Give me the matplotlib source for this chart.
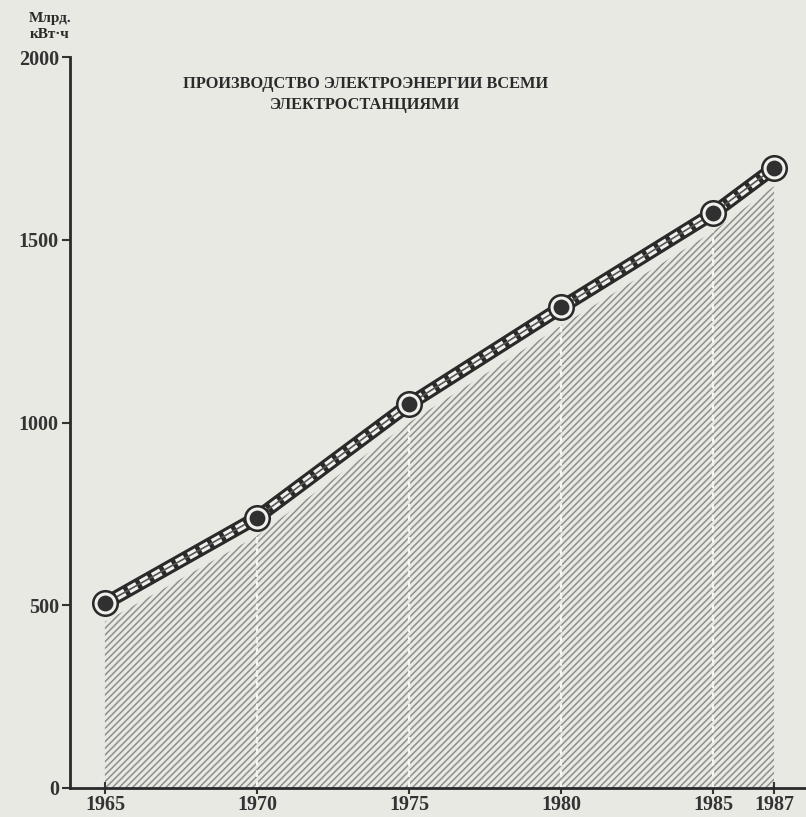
import matplotlib
matplotlib.use("Agg")
import matplotlib.pyplot as plt
import numpy as np

years = [1965, 1970, 1975, 1980, 1985, 1987]
production = [505, 740, 1050, 1315, 1573, 1697]
yticks = [0, 500, 1000, 1500, 2000]
title = "ПРОИЗВОДСТВО ЭЛЕКТРОЭНЕРГИИ ВСЕМИ\nЭЛЕКТРОСТАНЦИЯМИ"
ylabel = "Млрд.\nкВт·ч"

bg = "#e9e9e4"
dark = "#2a2a2a"
serif = ["Liberation Serif", "DejaVu Serif"]

plt.rcParams["hatch.linewidth"] = 1.1
plt.rcParams["hatch.color"] = "#8e8e8c"

fig = plt.figure(figsize=(8.06, 8.17), dpi=100, facecolor=bg)
ax = fig.add_axes([0.0868, 0.0355, 0.9132, 0.8945])
ax.set_facecolor(bg)

yr = np.array(years, dtype=float)
val = np.array(production, dtype=float)
fill_top = val - 50

ax.fill_between(yr, 0, fill_top, facecolor=bg, edgecolor="#8e8e8c",
                hatch="/////", linewidth=0, zorder=1)
# white separators at year boundaries
for x, t in zip(yr[1:-1], fill_top[1:-1]):
    ax.plot([x, x], [0, t], color="#f4f4f0", lw=1.6, ls=(0, (3, 2)), zorder=2)

# braided line
ax.plot(yr, val, color=dark, lw=10, solid_capstyle="butt", zorder=3)
ax.plot(yr, val, color="#f0f0ec", lw=5.5, ls=(0, (1.2, 0.6)), zorder=4)
ax.plot(yr, val, color="#555555", lw=1.2, zorder=5)

# markers
ax.scatter(yr, val, s=380, color=dark, zorder=6, linewidths=0)
ax.scatter(yr, val, s=250, color="#f0f0ec", zorder=7, linewidths=0)
ax.scatter(yr, val, s=130, color="#303030", zorder=8, linewidths=0)

ax.set_xlim(1963.85, 1988.05)
ax.set_ylim(0, 2000)
ax.set_xticks(years)
ax.set_xticklabels([str(y) for y in years], family=serif, fontweight="bold",
                   fontsize=14.5, color="#333333")
ax.set_yticks(yticks)
ax.set_yticklabels([str(v) for v in yticks], family=serif, fontweight="bold",
                   fontsize=14.5, color="#333333")
ax.tick_params(axis="x", direction="inout", length=8, width=1.5, pad=1, colors="#333333")
ax.tick_params(axis="y", direction="out", length=6, width=1.5, pad=2, colors="#333333")
for s in ["top", "right"]:
    ax.spines[s].set_visible(False)
for s in ["left", "bottom"]:
    ax.spines[s].set_linewidth(2)
    ax.spines[s].set_color("#2a2a2a")
ax.spines["bottom"].set_zorder(10)

fig.text(0.453, 0.884, title, ha="center", va="center", family=serif,
         fontweight="bold", fontsize=11.8, color="#2a2a2a", linespacing=1.4)
fig.text(0.062, 0.968, ylabel, ha="center", va="center", family=serif,
         fontweight="bold", fontsize=11, color="#2a2a2a", linespacing=1.3)

fig.savefig("out.png", dpi=100, facecolor=bg)
